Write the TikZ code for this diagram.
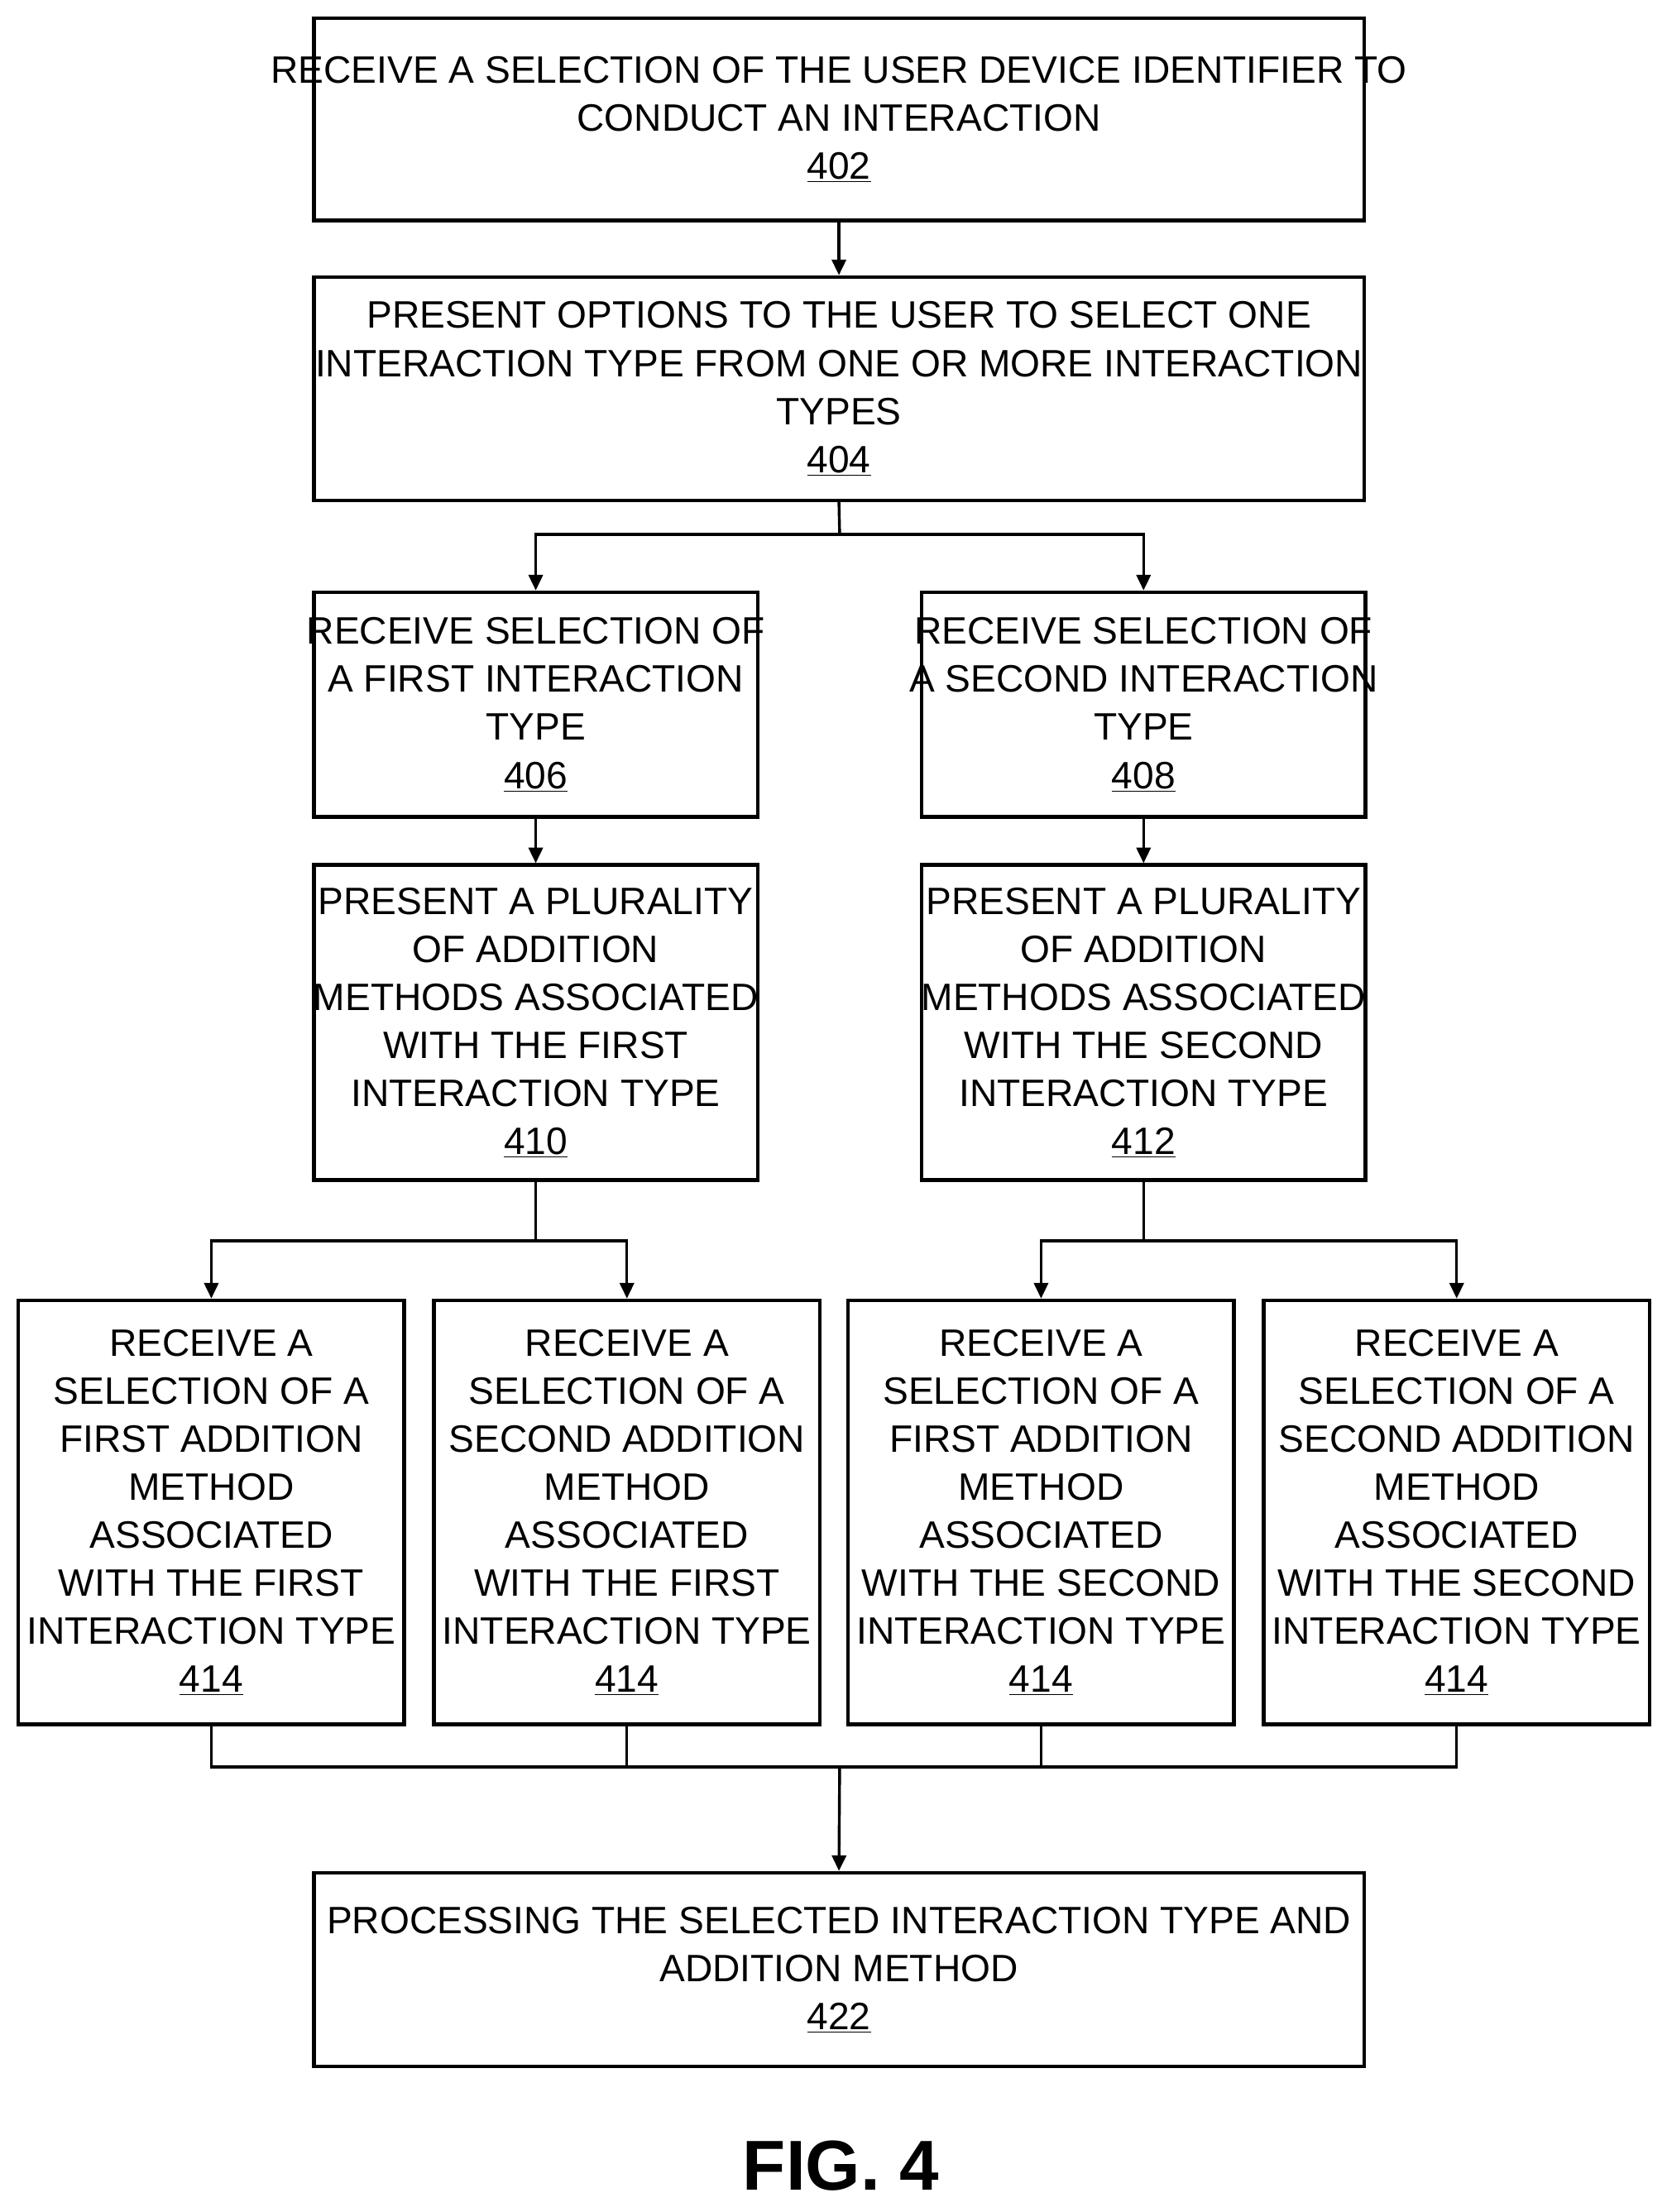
\documentclass[tikz,border=0pt]{standalone}
\usepackage{fontspec}
\setmainfont{Liberation Sans}
\usetikzlibrary{arrows.meta}
\begin{document}
\begin{tikzpicture}[x=1pt,y=-1pt,
  box/.style={draw,line width=2.6pt,inner sep=0pt},
  lbl/.style={align=center,font=\fontsize{27}{34}\selectfont},
  ln/.style={line width=2pt},
  arr/.style={ln,-{Triangle[length=11pt,width=10pt]}}]
\useasboundingbox (0,0) rectangle (1179,1565);
\newcommand\bx[6]{% name,x1,y1,x2,y2,text
  \node[box,minimum width=#4-#2,minimum height=#5-#3] (#1) at ({(#2+#4)/2},{(#3+#5)/2}) {};
  \node[lbl] at (#1.center) {#6};}
\bx{b402}{222}{13}{965}{156}{RECEIVE A SELECTION OF THE USER DEVICE IDENTIFIER TO\\CONDUCT AN INTERACTION\\\underline{402}}
\bx{b404}{222}{196}{965}{354}{PRESENT OPTIONS TO THE USER TO SELECT ONE\\INTERACTION TYPE FROM ONE OR MORE INTERACTION\\TYPES\\\underline{404}}
\bx{b406}{222}{419}{536}{578}{RECEIVE SELECTION OF\\A FIRST INTERACTION\\TYPE\\\underline{406}}
\bx{b408}{652}{419}{966}{578}{RECEIVE SELECTION OF\\A SECOND INTERACTION\\TYPE\\\underline{408}}
\bx{b410}{222}{612}{536}{835}{PRESENT A PLURALITY\\OF ADDITION\\METHODS ASSOCIATED\\WITH THE FIRST\\INTERACTION TYPE\\\underline{410}}
\bx{b412}{652}{612}{966}{835}{PRESENT A PLURALITY\\OF ADDITION\\METHODS ASSOCIATED\\WITH THE SECOND\\INTERACTION TYPE\\\underline{412}}
\bx{c1}{13}{920}{286}{1220}{RECEIVE A\\SELECTION OF A\\FIRST ADDITION\\METHOD\\ASSOCIATED\\WITH THE FIRST\\INTERACTION TYPE\\\underline{414}}
\bx{c2}{307}{920}{580}{1220}{RECEIVE A\\SELECTION OF A\\SECOND ADDITION\\METHOD\\ASSOCIATED\\WITH THE FIRST\\INTERACTION TYPE\\\underline{414}}
\bx{c3}{600}{920}{873}{1220}{RECEIVE A\\SELECTION OF A\\FIRST ADDITION\\METHOD\\ASSOCIATED\\WITH THE SECOND\\INTERACTION TYPE\\\underline{414}}
\bx{c4}{894}{920}{1167}{1220}{RECEIVE A\\SELECTION OF A\\SECOND ADDITION\\METHOD\\ASSOCIATED\\WITH THE SECOND\\INTERACTION TYPE\\\underline{414}}
\bx{b422}{222}{1325}{965}{1462}{PROCESSING THE SELECTED INTERACTION TYPE AND\\ADDITION METHOD\\\underline{422}}
\node[font=\fontsize{50}{56}\bfseries] (fig) at (595,1532) {FIG. 4};
% connectors
\draw[arr] (b402.south) -- (b404.north);
\coordinate (s1) at (594,378);
\draw[ln] (b404.south) -- (s1);
\draw[arr] (s1) -| (b406.north);
\draw[arr] (s1) -| (b408.north);
\draw[arr] (b406) -- (b410);
\draw[arr] (b408) -- (b412);
\coordinate (s2) at (379,878);
\coordinate (s3) at (809,878);
\draw[ln] (b410.south) -- (s2);
\draw[arr] (s2) -| (c1.north);
\draw[arr] (s2) -| (c2.north);
\draw[ln] (b412.south) -- (s3);
\draw[arr] (s3) -| (c3.north);
\draw[arr] (s3) -| (c4.north);
\coordinate (m) at (594,1250);
\draw[ln] (c1.south) |- (m);
\draw[ln] (c2.south) |- (m);
\draw[ln] (c3.south) |- (m);
\draw[ln] (c4.south) |- (m);
\draw[arr] (m) -- (b422.north);
\end{tikzpicture}
\end{document}
